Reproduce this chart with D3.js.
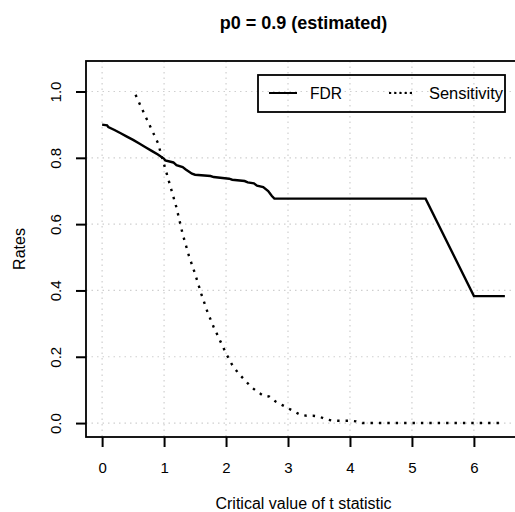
<!DOCTYPE html>
<html>
<head>
<meta charset="utf-8">
<script src="https://cdn.jsdelivr.net/npm/d3@7"></script>
<style>
  body { margin: 0; background: #fff; }
  text { font-family: "Liberation Sans", Arial, sans-serif; fill: #000; }
</style>
</head>
<body>
<script>
// values
var fdrT   = [0, 0.08, 0.1, 0.2, 0.3, 0.4, 0.5, 0.6, 0.7, 0.8, 0.9, 1.0, 1.02, 1.15, 1.2, 1.3, 1.35, 1.45, 1.5, 1.75, 1.8, 2.05, 2.1, 2.3, 2.35, 2.45, 2.5, 2.6, 2.68, 2.74, 2.78, 5.22, 6.0, 6.5];
var fdrVal = [0.90, 0.898, 0.893, 0.884, 0.874, 0.864, 0.854, 0.843, 0.832, 0.821, 0.81, 0.797, 0.792, 0.786, 0.778, 0.772, 0.765, 0.752, 0.749, 0.745, 0.742, 0.737, 0.734, 0.730, 0.726, 0.723, 0.716, 0.712, 0.70, 0.685, 0.677, 0.677, 0.383, 0.383];

var sensT   = [0.54, 0.6, 0.7, 0.8, 0.9, 1.0, 1.1, 1.2, 1.3, 1.4, 1.5, 1.6, 1.7, 1.8, 1.9, 2.0, 2.1, 2.2, 2.3, 2.4, 2.5, 2.6, 2.7, 2.8, 2.9, 3.0, 3.1, 3.2, 3.3, 3.4, 3.5, 3.6, 3.7, 3.8, 4.0, 4.1, 4.2, 5.0, 6.0, 6.5];
var sensVal = [0.99, 0.965, 0.925, 0.885, 0.845, 0.78, 0.715, 0.65, 0.57, 0.505, 0.45, 0.39, 0.335, 0.29, 0.25, 0.21, 0.175, 0.15, 0.13, 0.11, 0.095, 0.083, 0.080, 0.065, 0.055, 0.045, 0.035, 0.025, 0.022, 0.022, 0.02, 0.012, 0.008, 0.007, 0.007, 0.005, 0, 0, 0, 0];

var xTicks = [0, 1, 2, 3, 4, 5, 6];
var yTicks = [0, 0.2, 0.4, 0.6, 0.8, 1.0];
var legendLabels = ["FDR", "Sensitivity"];

var width = 515, height = 512;
var plot = { left: 86, top: 61, right: 521, bottom: 437 };

var svg = d3.select("body").append("svg")
    .attr("width", width)
    .attr("height", height);

var x = d3.scaleLinear().domain([-0.26, 6.76]).range([plot.left, plot.right]);
var y = d3.scaleLinear().domain([-0.042, 1.092]).range([plot.bottom, plot.top]);

// grid
var grid = svg.append("g")
    .attr("stroke", "#cfcfcf")
    .attr("stroke-width", 1.2)
    .attr("stroke-dasharray", "1.5,4");
grid.selectAll(".vg").data(xTicks).enter().append("line")
    .attr("x1", function(d) { return x(d); })
    .attr("x2", function(d) { return x(d); })
    .attr("y1", plot.top).attr("y2", plot.bottom);
grid.selectAll(".hg").data(yTicks).enter().append("line")
    .attr("y1", function(d) { return y(d); })
    .attr("y2", function(d) { return y(d); })
    .attr("x1", plot.left).attr("x2", plot.right);

// lines
var line = d3.line()
    .x(function(d) { return x(d[0]); })
    .y(function(d) { return y(d[1]); });

svg.append("path")
    .datum(d3.zip(fdrT, fdrVal))
    .attr("d", line)
    .attr("fill", "none")
    .attr("stroke", "#000")
    .attr("stroke-width", 2.4);

svg.append("path")
    .datum(d3.zip(sensT, sensVal))
    .attr("d", line)
    .attr("fill", "none")
    .attr("stroke", "#000")
    .attr("stroke-width", 2.4)
    .attr("stroke-dasharray", "2.4,6");

// box
svg.append("rect")
    .attr("x", plot.left).attr("y", plot.top)
    .attr("width", plot.right - plot.left)
    .attr("height", plot.bottom - plot.top)
    .attr("fill", "none")
    .attr("stroke", "#000")
    .attr("stroke-width", 1.8);

// axes
var xaxis = svg.append("g")
    .attr("transform", "translate(0," + plot.bottom + ")")
    .call(d3.axisBottom(x).tickValues(xTicks).tickSize(10).tickPadding(15).tickFormat(d3.format("d")));
xaxis.select(".domain").remove();
xaxis.selectAll("line").attr("stroke-width", 2);
xaxis.selectAll("text").style("font-size", "15px").attr("font-family", null);

var yaxis = svg.append("g")
    .attr("transform", "translate(" + plot.left + ",0)")
    .call(d3.axisLeft(y).tickValues(yTicks).tickSize(10).tickFormat(d3.format(".1f")));
yaxis.select(".domain").remove();
yaxis.selectAll("line").attr("stroke-width", 2);
yaxis.selectAll("text")
    .attr("x", 0).attr("y", -25.5).attr("dy", null)
    .attr("transform", "rotate(-90)")
    .attr("text-anchor", "middle")
    .attr("font-family", null)
    .style("font-size", "15px");

// titles
svg.append("text")
    .attr("x", (plot.left + plot.right) / 2).attr("y", 29)
    .attr("text-anchor", "middle")
    .style("font-size", "18px").style("font-weight", "bold")
    .text("p0 = 0.9 (estimated)");

svg.append("text")
    .attr("x", (plot.left + plot.right) / 2).attr("y", 509)
    .attr("text-anchor", "middle")
    .style("font-size", "16px")
    .text("Critical value of t statistic");

svg.append("text")
    .attr("transform", "translate(25," + (plot.top + plot.bottom) / 2 + ") rotate(-90)")
    .attr("text-anchor", "middle")
    .style("font-size", "16px")
    .text("Rates");

// legend
var leg = svg.append("g");
leg.append("rect")
    .attr("x", 258).attr("y", 75).attr("width", 247).attr("height", 37)
    .attr("fill", "none").attr("stroke", "#000").attr("stroke-width", 1.8);
var legItems = [
  { label: legendLabels[0], x0: 269, x1: 297, tx: 310, len: 32, dash: null },
  { label: legendLabels[1], x0: 389, x1: 413, tx: 429, len: 74, dash: "2.2,3" }
];
legItems.forEach(function(it) {
  leg.append("line")
      .attr("x1", it.x0).attr("x2", it.x1).attr("y1", 93).attr("y2", 93)
      .attr("stroke", "#000").attr("stroke-width", 2)
      .attr("stroke-dasharray", it.dash);
  leg.append("text")
      .attr("x", it.tx).attr("y", 99)
      .attr("textLength", it.len)
      .attr("lengthAdjust", "spacingAndGlyphs")
      .style("font-size", "16px")
      .text(it.label);
});
</script>
</body>
</html>
